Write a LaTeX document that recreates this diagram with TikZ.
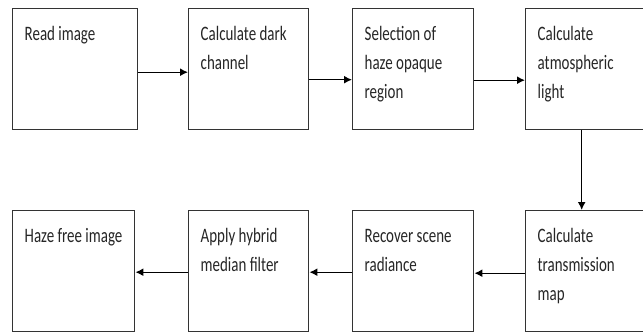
\documentclass[tikz,border=0pt]{standalone}
\usepackage{fontspec}
\setmainfont{Carlito}[FakeStretch=0.73]
\usetikzlibrary{arrows.meta}
\newcommand\boxcontent[2]{\parbox[c][121pt][t]{#1}{\hspace*{12pt}\parbox[t]{\dimexpr#1-14pt\relax}{\raggedright\rule{0pt}{32pt}#2}}}
\begin{document}
\begin{tikzpicture}[x=1pt,y=-1pt,
  stepbox/.style={draw=black!80, line width=1.4pt, inner sep=0pt, anchor=north west,
    font=\fontsize{20.5}{29}\selectfont, text=black!85},
  flow/.style={draw=black, line width=1.4pt, -{Latex[length=8pt,width=8pt]}}]
\useasboundingbox (0,0) rectangle (643,332);
\fill[white] (0,0) rectangle (643,332);
\node[stepbox] (b1) at (12,8) {\boxcontent{125pt}{Read image}};
\node[stepbox] (b2) at (188,8) {\boxcontent{120pt}{Calculate dark\\channel}};
\node[stepbox] (b3) at (352,8) {\boxcontent{121pt}{Selection of\\haze opaque\\region}};
\node[stepbox] (b4) at (525,8) {\boxcontent{121pt}{Calculate\\atmospheric\\light}};
\node[stepbox] (b5) at (12,210) {\boxcontent{122pt}{Haze free image}};
\node[stepbox] (b6) at (188,210) {\boxcontent{120pt}{Apply hybrid\\median filter}};
\node[stepbox] (b7) at (352,210) {\boxcontent{121pt}{Recover scene\\radiance}};
\node[stepbox] (b8) at (525,210) {\boxcontent{121pt}{Calculate\\transmission\\map}};
\draw[flow] ([yshift=-3pt]b1.east) -- ([yshift=-3pt]b2.west);
\draw[flow] ([yshift=-10.5pt]b2.east) -- ([yshift=-10.5pt]b3.west);
\draw[flow] ([yshift=-11pt]b3.east) -- ([yshift=-11pt]b4.west);
\draw[flow] ([xshift=-4.5pt]b4.south) -- ([xshift=-4.5pt]b8.north);
\draw[flow] ([yshift=-2pt]b8.west) -- ([yshift=-2pt]b7.east);
\draw[flow] ([yshift=-1pt]b7.west) -- ([yshift=-1pt]b6.east);
\draw[flow] ([yshift=-1pt]b6.west) -- ([yshift=-1pt]b5.east);
\end{tikzpicture}
\end{document}
